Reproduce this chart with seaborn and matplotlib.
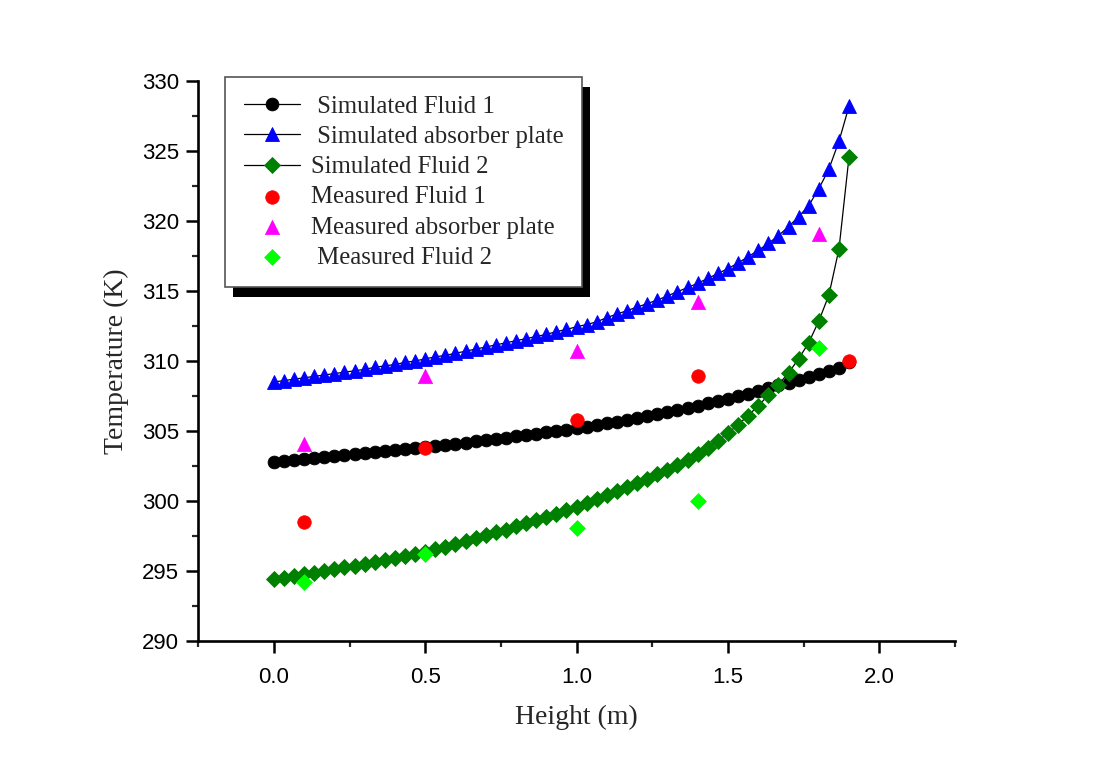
import numpy as np
import pandas as pd
import matplotlib
matplotlib.use("Agg")
import matplotlib.pyplot as plt
from matplotlib.ticker import MultipleLocator, FormatStrFormatter
from matplotlib.patches import Rectangle
import seaborn as sns

# ---------------- data ----------------
sim_height = [round(i * 1.9 / 57, 4) for i in range(58)]

sim_fluid1 = [302.8, 302.87, 302.94, 303.0, 303.07, 303.14, 303.2, 303.27, 303.34, 303.41,
              303.48, 303.55, 303.62, 303.69, 303.77, 303.85, 303.93, 304.01, 304.09, 304.17,
              304.25, 304.34, 304.43, 304.52, 304.61, 304.7, 304.8, 304.9, 305.0, 305.1,
              305.21, 305.32, 305.43, 305.55, 305.67, 305.8, 305.93, 306.06, 306.2, 306.34,
              306.5, 306.66, 306.82, 306.98, 307.14, 307.3, 307.47, 307.65, 307.85, 308.05,
              308.25, 308.45, 308.65, 308.85, 309.05, 309.25, 309.5, 309.9]

sim_plate = [308.5, 308.6, 308.7, 308.8, 308.9, 309.0, 309.1, 309.2, 309.3, 309.4,
             309.55, 309.65, 309.75, 309.9, 310.0, 310.15, 310.3, 310.4, 310.55, 310.7,
             310.85, 311.0, 311.15, 311.3, 311.45, 311.6, 311.75, 311.9, 312.1, 312.25,
             312.45, 312.6, 312.8, 313.1, 313.35, 313.6, 313.85, 314.1, 314.35, 314.65,
             314.95, 315.25, 315.55, 315.9, 316.25, 316.6, 317.0, 317.45, 317.9, 318.4,
             318.95, 319.6, 320.3, 321.1, 322.3, 323.7, 325.7, 328.2]

sim_fluid2 = [294.4, 294.52, 294.64, 294.76, 294.88, 295.0, 295.13, 295.26, 295.39, 295.52,
              295.65, 295.78, 295.92, 296.06, 296.2, 296.35, 296.55, 296.74, 296.93, 297.13,
              297.33, 297.54, 297.75, 297.96, 298.18, 298.4, 298.63, 298.86, 299.1, 299.35,
              299.6, 299.86, 300.12, 300.4, 300.68, 300.97, 301.27, 301.58, 301.9, 302.23,
              302.58, 302.95, 303.35, 303.8, 304.3, 304.85, 305.45, 306.1, 306.8, 307.55,
              308.3, 309.15, 310.15, 311.3, 312.85, 314.7, 318.0, 324.6]

meas_height = [0.1, 0.5, 1.0, 1.4, 1.8]
meas_fluid1_height = [0.1, 0.5, 1.0, 1.4, 1.9]
meas_fluid1 = [298.5, 303.8, 305.8, 308.9, 310.0]
meas_plate = [304.1, 308.9, 310.7, 314.2, 319.1]
meas_fluid2 = [294.2, 296.2, 298.1, 300.0, 310.9]

labels = [" Simulated Fluid 1", " Simulated absorber plate", "Simulated Fluid 2",
          "Measured Fluid 1", "Measured absorber plate", " Measured Fluid 2"]

# ---------------- figure ----------------
sns.set_style("ticks")
plt.rcParams["font.family"] = ["Liberation Sans", "DejaVu Sans"]

fig = plt.figure(figsize=(11.07, 7.73), dpi=100)
ax = fig.add_axes([0.179, 0.1708, 0.6837, 0.7244])

sim_df = pd.DataFrame({"h": sim_height, "f1": sim_fluid1, "pl": sim_plate, "f2": sim_fluid2})

common = dict(color="black", linewidth=0.9, markeredgewidth=0.6, ax=ax)
sns.lineplot(data=sim_df, x="h", y="f1", marker="o", markersize=9.2,
             markerfacecolor="black", markeredgecolor="black", label=labels[0], **common)
sns.lineplot(data=sim_df, x="h", y="pl", marker="^", markersize=10.5,
             markerfacecolor="blue", markeredgecolor="blue", label=labels[1], **common)
sns.lineplot(data=sim_df, x="h", y="f2", marker="D", markersize=8.6,
             markerfacecolor="#008000", markeredgecolor="#008000", label=labels[2], **common)

sns.scatterplot(x=meas_fluid1_height, y=meas_fluid1, marker="o", s=95, color="red",
                edgecolor="red", linewidth=0.5, label=labels[3], ax=ax, zorder=3)
sns.scatterplot(x=meas_height, y=meas_plate, marker="^", s=105, color="magenta",
                edgecolor="magenta", linewidth=0.5, label=labels[4], ax=ax, zorder=3)
sns.scatterplot(x=meas_height, y=meas_fluid2, marker="D", s=65, color="#00ff00",
                edgecolor="#00ff00", linewidth=0.5, label=labels[5], ax=ax, zorder=3)

ax.set_xlim(-0.25, 2.25)
ax.set_ylim(290, 330)
ax.xaxis.set_major_locator(MultipleLocator(0.5))
ax.xaxis.set_minor_locator(MultipleLocator(0.25))
ax.yaxis.set_major_locator(MultipleLocator(5))
ax.yaxis.set_minor_locator(MultipleLocator(2.5))
ax.xaxis.set_major_formatter(FormatStrFormatter("%.1f"))

sns.despine(ax=ax)
for sp in ("left", "bottom"):
    ax.spines[sp].set_linewidth(1.9)
    ax.spines[sp].set_color("black")
ax.tick_params(which="major", direction="out", length=8.5, width=1.8, labelsize=16,
               colors="black")
ax.tick_params(which="minor", direction="out", length=4, width=1.6)
ax.tick_params(axis="y", which="major", pad=5.3)
ax.tick_params(axis="x", which="major", pad=10.5)

serif = ["Liberation Serif", "DejaVu Serif"]
ax.set_xlabel("Height (m)", family=serif, fontsize=20, labelpad=12)
ax.set_ylabel("Temperature (K)", family=serif, fontsize=20, labelpad=9)

leg = ax.legend(loc="upper left", bbox_to_anchor=(0.2033, 0.9004),
                bbox_transform=fig.transFigure, borderaxespad=0,
                prop={"family": serif, "size": 17.8}, frameon=True, fancybox=False,
                handlelength=2.3, handletextpad=0.42, borderpad=0.75, labelspacing=0.32)
frame = leg.get_frame()
frame.set_edgecolor("#555555")
frame.set_linewidth(1.2)
frame.set_facecolor("white")
frame.set_alpha(1)

fig.canvas.draw()
bb = leg.get_window_extent().transformed(fig.transFigure.inverted())
shadow = Rectangle((bb.x0 + 8 / 1107, bb.y0 - 10 / 773), bb.width, bb.height,
                   transform=fig.transFigure, facecolor="black", edgecolor="none", zorder=9)
fig.patches.append(shadow)
leg.remove()
fig.legends.append(leg)
leg.set_zorder(10)

fig.savefig("out.png", dpi=100, facecolor="white")
